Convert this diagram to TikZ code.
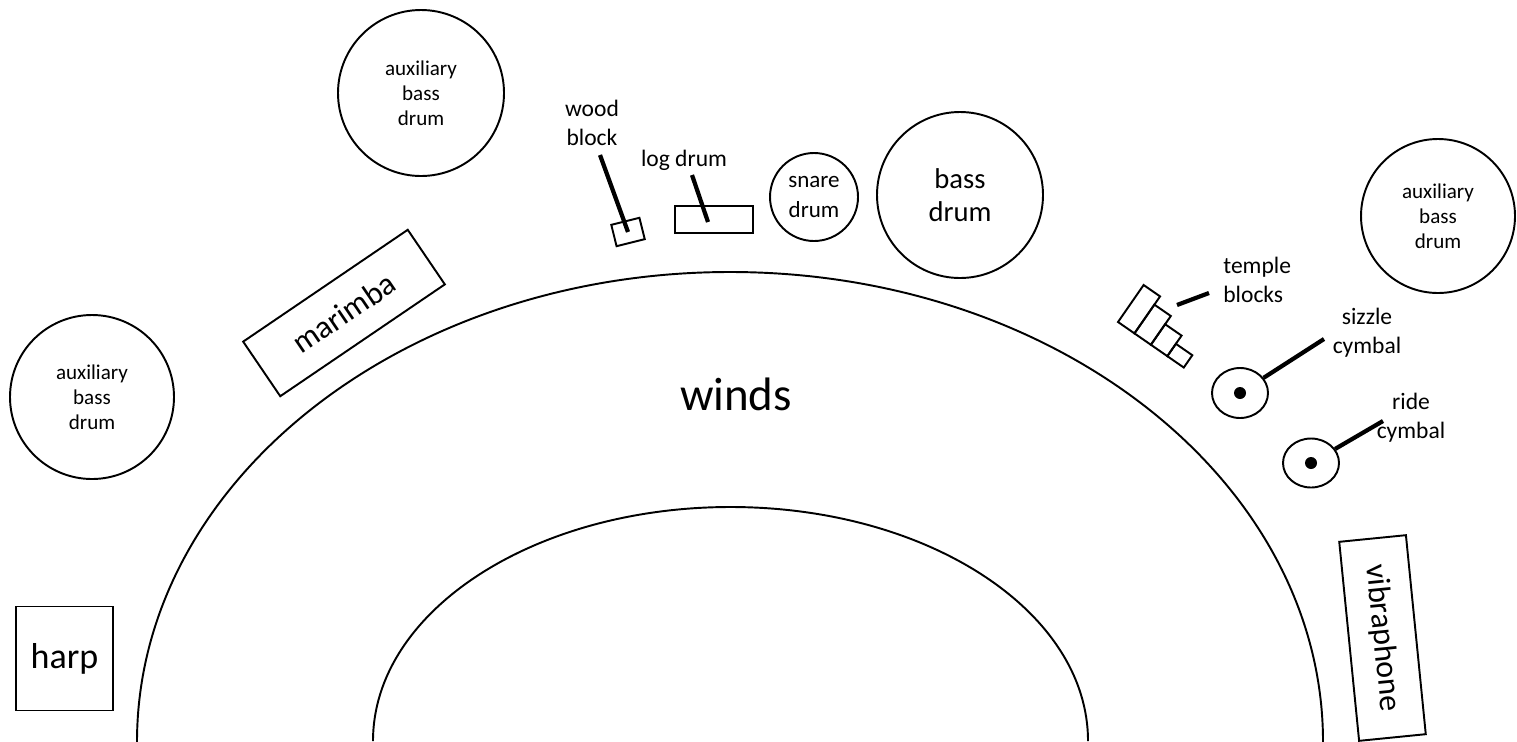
\documentclass[tikz,border=0pt]{standalone}
\usepackage{fontspec}
\setmainfont{Carlito}
\usetikzlibrary{shapes.geometric}
\newcommand{\pxl}{0.02cm}

\begin{document}
\begin{tikzpicture}[
    x=0.02cm, y=-0.02cm,
    drum/.style={circle, draw, line width=1.1pt, inner sep=0pt, align=center,
                 minimum size=#1*\pxl},
    aux/.style={drum=#1, font=\fontsize{12}{14.2}\selectfont},
    bar/.style={rectangle, draw, line width=1.1pt, inner sep=0pt},
    cym/.style={ellipse, draw, line width=1.1pt, inner sep=0pt},
    tag/.style={inner sep=0pt, align=center, font=\fontsize{13.4}{16.5}\selectfont},
    lead/.style={line width=2.4pt}
]
    \useasboundingbox[fill=white] (0,0) rectangle (1517,741);
    \clip (0,0) rectangle (1517,741);

    % winds
    \draw[line width=1.1pt] (137,742) arc[start angle=180, end angle=0,
        x radius=593*\pxl, y radius=470*\pxl];
    \draw[line width=1.1pt] (373,741) arc[start angle=180, end angle=0,
        x radius=357.5*\pxl, y radius=234*\pxl];
    \node[font=\fontsize{26.7}{32}\selectfont, inner sep=0pt] (winds) at (736,394) {winds};

    % drums
    \node[aux=164] (auxleft)  at (92,397)  {auxiliary\\bass\\drum};
    \node[aux=166] (auxtop)   at (421,93)  {auxiliary\\bass\\drum};
    \node[aux=154] (auxright) at (1438,216) {auxiliary\\bass\\drum};
    \node[drum=88, font=\fontsize{13.1}{17}\selectfont] (snare) at (814,197) {snare\\drum};
    \node[drum=166, font=\fontsize{16.3}{18.8}\selectfont] (bass) at (960,195) {bass\\drum};

    % mallets and harp
    \node[bar, rotate=34.2, minimum width=199*\pxl, minimum height=66*\pxl,
          font=\fontsize{18.2}{22}\selectfont] (marimba) at (344,313) {marimba};
    \node[bar, rotate=-84.3, minimum width=200*\pxl, minimum height=67*\pxl,
          font=\fontsize{18.2}{22}\selectfont] (vibes) at (1382.5,638) {vibraphone};
    \node[bar, minimum width=97*\pxl, minimum height=104*\pxl,
          font=\fontsize{20.5}{24}\selectfont] (harp) at (64.5,658.5) {harp};

    % wood block and log drum
    \node[bar, rotate=14, minimum width=29*\pxl, minimum height=22*\pxl] (wood) at (628,232) {};
    \node[bar, minimum width=78*\pxl, minimum height=27*\pxl] (logdrum) at (714,219.5) {};
    \node[tag] (woodtxt) at (592,123) {wood\\block};
    \node[tag] (logtxt) at (684,160) {log drum};
    \coordinate (woodtip) at (600,155);
    \coordinate (logtip) at (692,175);
    \coordinate (logfoot) at (708,222);
    \draw[lead] (woodtip) -- (wood.center);
    \draw[lead] (logtip) -- (logfoot);

    % temple blocks
    \begin{scope}[shift={(1118,322)}, rotate=-34.7]
        \foreach \i/\h in {0/45, 1/35, 2/25, 3/15}
            \draw[line width=1.1pt] (\i*20,0) rectangle (\i*20+20,-\h);
    \end{scope}
    \node[tag, align=left, anchor=west] (templetxt) at (1223,280) {temple\\blocks};
    \coordinate (templea) at (1177,305);
    \coordinate (templeb) at (1209,293);
    \draw[lead] (templea) -- (templeb);

    % cymbals
    \node[cym, minimum width=56*\pxl, minimum height=50*\pxl] (sizzle) at (1240,393) {};
    \node[cym, minimum width=56*\pxl, minimum height=49*\pxl] (ride) at (1311,463) {};
    \fill (sizzle.center) circle[radius=6*\pxl];
    \fill (ride.center) circle[radius=6*\pxl];
    \node[tag] (sizzletxt) at (1367,333) {sizzle\\cymbal};
    \node[tag] (ridetxt) at (1411,418) {ride\\cymbal};
    \coordinate (sizzletip) at (1324,339);
    \coordinate (ridetip) at (1383,421);
    \draw[lead] (sizzle) -- (sizzletip);
    \draw[lead] (ride) -- (ridetip);
\end{tikzpicture}
\end{document}
